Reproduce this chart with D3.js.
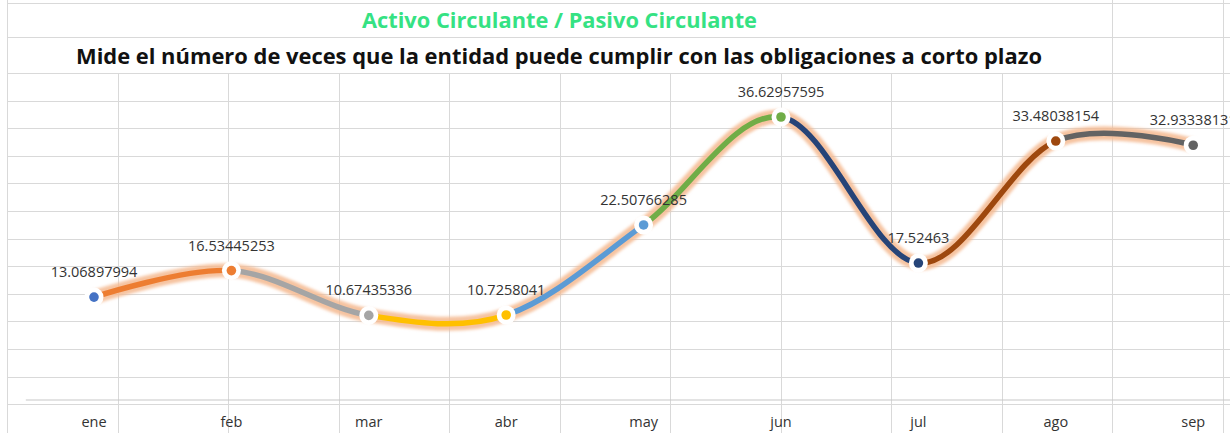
<!DOCTYPE html>
<html><head><meta charset="utf-8">
<script src="https://cdn.jsdelivr.net/npm/d3@7"></script>
<style>body{margin:0;background:#fff}svg{display:block}</style>
</head><body><svg id="c" width="1230" height="433"></svg>
<script>
const months = ["ene","feb","mar","abr","may","jun","jul","ago","sep"];
const values = [13.06897994,16.53445253,10.67435336,10.7258041,22.50766285,36.62957595,17.52463,33.48038154,32.93338131];
const pointColors = ["#4472C4","#ED7D31","#A5A5A5","#FFC000","#5B9BD5","#70AD47","#264478","#9E480E","#636363"];
const titleText = "Activo Circulante / Pasivo Circulante";
const subtitleText = "Mide el número de veces que la entidad puede cumplir con las obligaciones a corto plazo";

const W = 1230, H = 433;
const svg = d3.select("#c");
const font = "'Open Sans', 'DejaVu Sans', sans-serif";

svg.append("rect").attr("width", W).attr("height", H).attr("fill", "#fff");

// spreadsheet background grid
const grid = svg.append("g").attr("stroke", "#D9D9D9").attr("stroke-width", 1);
const rowYs = [3, 37].concat(d3.range(0, 13).map(k => 73 + k * 27.6));
grid.selectAll("line.r").data(rowYs).join("line")
  .attr("x1", 7).attr("x2", W).attr("y1", d => Math.round(d) + 0.5).attr("y2", d => Math.round(d) + 0.5);
const colXs = d3.range(0, 12).map(k => 7 + k * 110.5);
grid.selectAll("line.c").data(colXs).join("line")
  .attr("x1", d => Math.round(d) + 0.5).attr("x2", d => Math.round(d) + 0.5)
  .attr("y1", (d, i) => (i === 0 || i >= 10) ? 0 : 73).attr("y2", H);

// titles
svg.append("text").text(titleText)
  .attr("x", 362).attr("y", 28).attr("textLength", 395).attr("lengthAdjust", "spacingAndGlyphs")
  .attr("font-family", font).attr("font-weight", "bold").attr("font-size", 21).attr("fill", "#35E283");
svg.append("text").text(subtitleText)
  .attr("x", 76).attr("y", 64).attr("textLength", 966).attr("lengthAdjust", "spacingAndGlyphs")
  .attr("font-family", font).attr("font-weight", "bold").attr("font-size", 21.5).attr("fill", "#111");

// scales
const step = 137.4;
const x = d3.scaleBand().domain(months).range([94 - step / 2, 94 - step / 2 + step * months.length]).padding(0);
const cx = m => x(m) + x.bandwidth() / 2;
const y = d3.scaleLinear().domain([0, 45]).range([397, 53]);

// x axis
const axis = svg.append("g").attr("transform", "translate(0,399.5)")
  .call(d3.axisBottom(x).tickSizeInner(0).tickSizeOuter(0));
axis.select(".domain").attr("stroke", "#C8C8C8").attr("stroke-width", 1.2);
axis.selectAll(".tick text").attr("y", 27).attr("dy", 0)
  .attr("font-family", font).attr("font-size", 14.5).attr("fill", "#333");

// line
const data = months.map((m, i) => ({ m, v: values[i], c: pointColors[i] }));
const line = d3.line().x(d => cx(d.m)).y(d => y(d.v)).curve(d3.curveCardinal.tension(0));

const defs = svg.append("defs");
const blur = defs.append("filter").attr("id", "glow").attr("x", "-10%").attr("y", "-10%").attr("width", "120%").attr("height", "120%");
blur.append("feGaussianBlur").attr("stdDeviation", 1.8);

svg.append("path").datum(data).attr("d", line)
  .attr("fill", "none").attr("stroke", "#F5B98F").attr("stroke-width", 14)
  .attr("stroke-opacity", 0.85).attr("filter", "url(#glow)");

data.slice(1).forEach((d, i) => {
  const id = "seg" + i;
  defs.append("clipPath").attr("id", id).append("rect")
    .attr("x", cx(data[i].m)).attr("y", 0)
    .attr("width", cx(d.m) - cx(data[i].m)).attr("height", H);
  svg.append("path").datum(data).attr("d", line)
    .attr("clip-path", `url(#${id})`)
    .attr("fill", "none").attr("stroke", d.c).attr("stroke-width", 5.5);
});

// markers
const mk = svg.append("g");
mk.selectAll("circle.w").data(data).join("circle")
  .attr("cx", d => cx(d.m)).attr("cy", d => y(d.v)).attr("r", 9.5).attr("fill", "#fff");
mk.selectAll("circle.p").data(data).join("circle")
  .attr("cx", d => cx(d.m)).attr("cy", d => y(d.v)).attr("r", 4.8).attr("fill", d => d.c);

// data labels
svg.append("g").selectAll("text").data(data).join("text")
  .attr("x", d => cx(d.m)).attr("y", d => y(d.v) - 20)
  .attr("text-anchor", "middle").attr("font-family", font).attr("font-size", 14.5).attr("fill", "#333")
  .text(d => String(d.v));
</script></body></html>
